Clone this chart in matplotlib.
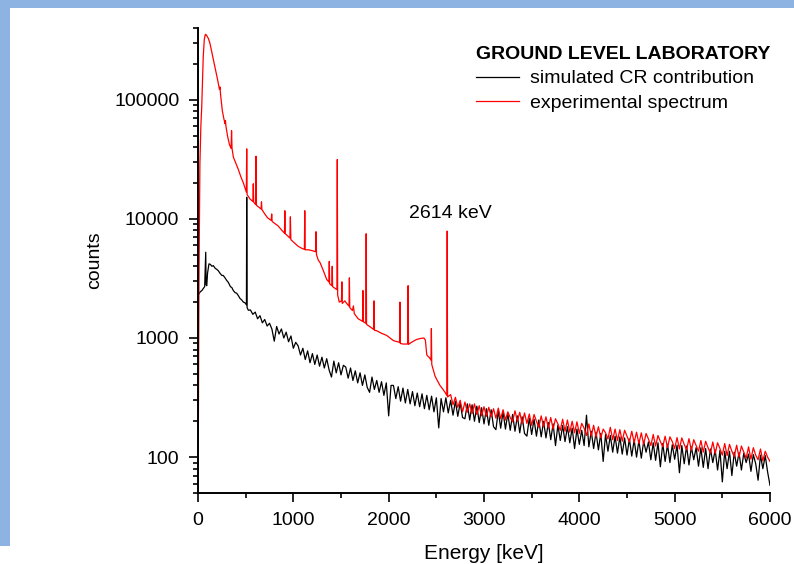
import numpy as np
import matplotlib.pyplot as plt
from matplotlib.patches import Rectangle
from matplotlib.ticker import FixedLocator, FixedFormatter, LogLocator, NullFormatter, MultipleLocator

plt.rcParams['font.family'] = ['Liberation Sans', 'DejaVu Sans']

# --- simulated cosmic-ray contribution (black) ---
# low energy part, read point by point
sim_E_low = [0, 10, 25, 40, 55, 70, 78, 81, 85, 92, 100, 115, 130, 145, 161, 180, 200,
             213, 230, 250, 265, 283, 300, 318, 340, 355, 371, 390, 405, 423, 440, 460,
             476, 490, 504, 508, 511, 515, 528]
sim_counts_low = [2300, 2350, 2450, 2500, 2600, 2700, 4500, 5250, 2800, 2750, 3500, 4190,
                  4150, 4000, 4050, 3850, 3750, 3670, 3500, 3350, 3350, 3200, 3050, 2930,
                  2700, 2650, 2500, 2400, 2380, 2270, 2150, 2080, 2000, 1980, 1930, 1900,
                  15200, 1800, 1710]
# 550 ... 6000 keV in 25 keV steps
sim_E_tail = np.arange(550, 6001, 25)
sim_counts_tail = [1720, 1580, 1650, 1450, 1540, 1340, 1430, 1260, 1330, 1190,
                   940, 1250, 1080, 1190, 1000, 1120, 930, 1040, 820, 920,
                   860, 720, 820, 660, 780, 620, 740, 600, 720, 580,
                   690, 560, 670, 540, 470, 640, 510, 620, 490, 590,
                   570, 460, 560, 440, 530, 420, 510, 400, 490, 385,
                   350, 470, 370, 440, 350, 430, 330, 420, 222, 400,
                   400, 310, 390, 295, 380, 285, 370, 280, 355, 270,
                   345, 265, 340, 255, 330, 250, 325, 240, 315, 176,
                   310, 240, 315, 235, 300, 225, 295, 220, 285, 215,
                   210, 280, 205, 275, 200, 268, 195, 260, 190, 255,
                   185, 250, 180, 170, 245, 175, 240, 172, 232, 168,
                   228, 165, 222, 160, 218, 158, 150, 212, 155, 208,
                   150, 205, 148, 200, 145, 195, 140, 190, 125, 186,
                   138, 184, 135, 180, 132, 175, 118, 172, 128, 168,
                   125, 225, 122, 165, 118, 162, 115, 158, 92, 155,
                   112, 152, 110, 150, 108, 148, 106, 145, 104, 142,
                   102, 140, 100, 138, 98, 136, 110, 134, 95, 132,
                   94, 132, 83, 130, 92, 128, 90, 127, 96, 126,
                   74, 125, 88, 124, 86, 122, 95, 120, 84, 120,
                   82, 118, 80, 117, 90, 115, 78, 114, 62, 112,
                   80, 112, 70, 110, 84, 109, 78, 108, 90, 106,
                   76, 105, 88, 64, 104, 80, 103, 75, 58]

# --- experimental spectrum (red) ---
exp_E_low = [3, 10, 20, 30, 39, 55, 66, 75, 81, 95, 110, 126, 150, 178, 205, 225, 231, 236,
             255, 270, 283, 288, 293, 311, 330, 347, 352, 357, 371, 395, 423, 450, 476, 500,
             507, 511, 515, 545, 576, 580, 584, 605, 609, 613, 640, 662, 666, 670, 700, 730,
             768, 773, 778, 810, 842, 880, 907, 911, 915, 940, 964, 969, 974, 1000, 1049,
             1090, 1116, 1120, 1124, 1160, 1200, 1234, 1238, 1243, 1262, 1280, 1315, 1350,
             1373, 1377, 1381, 1404, 1408, 1412, 1440, 1457, 1461, 1465, 1482, 1505, 1509,
             1513, 1540, 1560, 1584, 1588, 1592, 1620, 1630, 1640, 1680, 1726, 1730, 1734,
             1760, 1764, 1768, 1800, 1843, 1847, 1851, 1875, 1920, 1980, 2050, 2114, 2118,
             2122, 2150, 2200, 2204, 2208, 2240, 2290, 2330, 2370, 2385, 2400, 2430, 2444,
             2448, 2452, 2486, 2510, 2538, 2570, 2591, 2610, 2614, 2618]
exp_counts_low = [124, 3000, 29000, 60000, 87000, 230000, 320000, 350000, 354000, 342000,
                  325000, 296000, 240000, 189000, 148000, 122000, 128000, 112000, 81000,
                  70000, 63000, 67000, 60000, 49000, 42000, 39000, 55000, 39000, 33000,
                  29500, 26000, 22500, 20000, 17500, 16800, 38700, 16000, 14700, 14000,
                  19700, 13800, 13200, 33600, 13000, 12500, 12100, 13900, 12000, 11000,
                  10200, 9700, 11000, 9500, 9100, 8700, 8000, 7600, 11700, 7500, 7200,
                  6900, 10400, 6700, 6400, 5900, 5650, 5550, 11700, 5500, 5500, 5400,
                  5300, 7800, 5000, 4500, 4300, 3670, 3100, 2950, 4400, 2850, 2750, 4000,
                  2700, 2600, 2550, 31500, 2300, 2000, 2050, 2960, 1950, 2050, 1950, 1850,
                  3200, 1800, 1700, 1860, 1600, 1450, 1380, 2500, 1370, 1330, 7500, 1300,
                  1250, 1180, 2050, 1160, 1150, 1100, 1050, 950, 920, 2000, 900, 890, 890,
                  2750, 885, 920, 970, 990, 1000, 960, 720, 680, 650, 1200, 600, 480, 440,
                  400, 370, 350, 330, 7900, 320]
# 2650 ... 6000 keV in 25 keV steps
exp_E_tail = np.arange(2650, 6001, 25)
exp_counts_tail = [335, 275, 318, 262, 300, 240, 290, 238, 280, 232,
                   280, 228, 270, 222, 265, 220, 262, 218, 255, 212,
                   258, 210, 250, 205, 240, 215, 198, 245, 200, 238,
                   190, 235, 192, 230, 185, 228, 200, 178, 222, 180,
                   218, 175, 215, 172, 210, 190, 168, 208, 165, 205,
                   162, 200, 160, 198, 158, 192, 175, 152, 190, 150,
                   185, 148, 180, 145, 172, 160, 142, 178, 140, 172,
                   138, 170, 136, 168, 150, 134, 165, 132, 162, 130,
                   160, 128, 158, 142, 125, 155, 124, 152, 135, 122,
                   150, 120, 148, 135, 118, 146, 117, 145, 128, 115,
                   143, 114, 140, 125, 112, 138, 110, 136, 120, 108,
                   134, 107, 132, 118, 104, 130, 103, 128, 112, 101,
                   126, 100, 124, 110, 98, 122, 96, 120, 104, 95,
                   117, 93, 112, 100, 92]

sim_E = np.concatenate([sim_E_low, sim_E_tail])
sim_counts = np.concatenate([sim_counts_low, sim_counts_tail])
exp_E = np.concatenate([exp_E_low, exp_E_tail])
exp_counts = np.concatenate([exp_counts_low, exp_counts_tail])

fig = plt.figure(figsize=(7.94, 5.64), dpi=100)
ax = fig.add_axes([198/794, 71/564, 572/794, 465/564])

ax.plot(sim_E, sim_counts, color='black', lw=0.9, label='simulated CR contribution')
ax.plot(exp_E, exp_counts, color='red', lw=0.9, label='experimental spectrum')

ax.set_yscale('log')
ax.set_xlim(0, 6000)
ax.set_ylim(50, 400000)

ax.xaxis.set_major_locator(MultipleLocator(1000))
ax.xaxis.set_minor_locator(MultipleLocator(500))
ax.yaxis.set_major_locator(FixedLocator([100, 1000, 10000, 100000]))
ax.yaxis.set_major_formatter(FixedFormatter(['100', '1000', '10000', '100000']))
ax.yaxis.set_minor_locator(LogLocator(base=10, subs=np.arange(2, 10)))
ax.yaxis.set_minor_formatter(NullFormatter())

for s in ['top', 'right']:
    ax.spines[s].set_visible(False)
for s in ['left', 'bottom']:
    ax.spines[s].set_linewidth(1.4)
ax.tick_params(which='major', direction='out', length=6.5, width=1.2, labelsize=14, pad=7)
ax.tick_params(which='minor', direction='out', length=3.6, width=1.2)

ax.set_xlabel('Energy [keV]', fontsize=15, labelpad=11)
ax.set_ylabel('counts', fontsize=14, labelpad=8)

ax.text(2645, 11000, '2614 keV', fontsize=14, ha='center', va='center')

leg = ax.legend(loc='upper left', bbox_to_anchor=(476/794, 1 - 46/564),
                bbox_transform=fig.transFigure, frameon=False, fontsize=14,
                title='GROUND LEVEL LABORATORY', alignment='left',
                title_fontproperties={'weight': 'bold', 'size': 14},
                handlelength=2.2, handletextpad=0.6, labelspacing=0.35,
                borderpad=0, borderaxespad=0)

fig.add_artist(Rectangle((0, 1 - 546/564), 10/794, 546/564, transform=fig.transFigure,
                         color='#8db3e2', lw=0))
fig.add_artist(Rectangle((0, 1 - 8/564), 1, 8/564, transform=fig.transFigure,
                         color='#8db3e2', lw=0))

fig.savefig('out.png', dpi=100)
